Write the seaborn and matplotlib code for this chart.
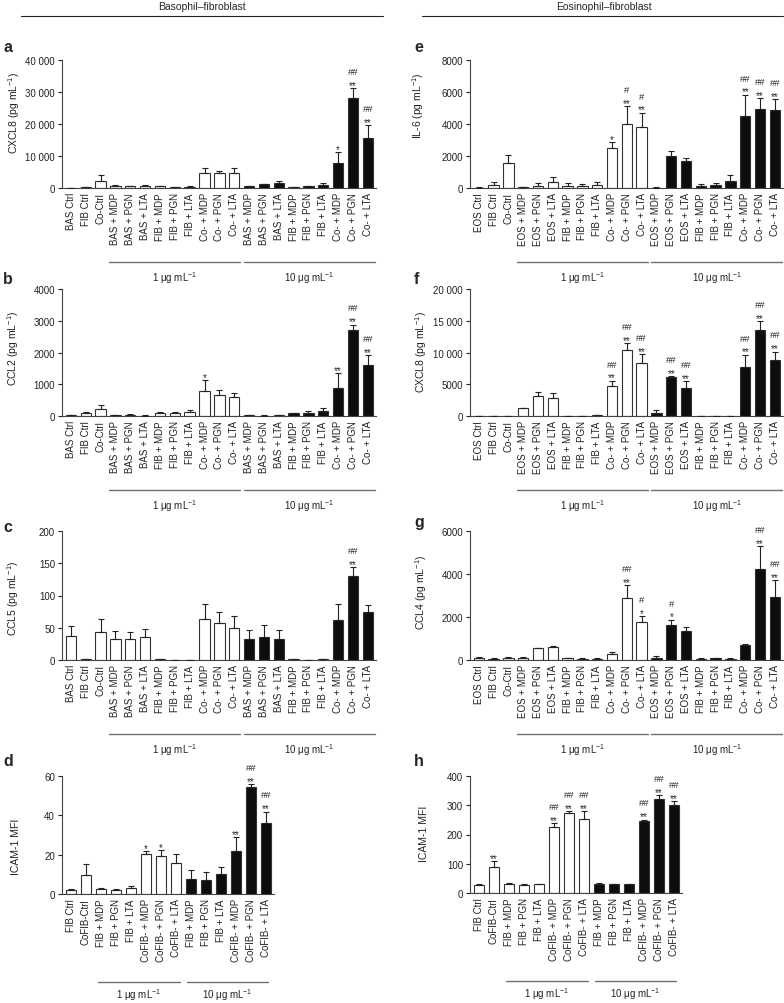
"""
Cytokine / ICAM-1 bar panels for basophil- and eosinophil-fibroblast co-cultures.
"""
import numpy as np
import pandas as pd
import matplotlib
matplotlib.use("Agg")
import matplotlib.pyplot as plt
import matplotlib.transforms as mtransforms
from matplotlib.lines import Line2D
import seaborn as sns

W, H = 784, 1004

# ---- categories ----
bas_labels = ["BAS Ctrl", "FIB Ctrl", "Co-Ctrl",
              "BAS + MDP", "BAS + PGN", "BAS + LTA", "FIB + MDP", "FIB + PGN", "FIB + LTA",
              "Co- + MDP", "Co- + PGN", "Co- + LTA",
              "BAS + MDP", "BAS + PGN", "BAS + LTA", "FIB + MDP", "FIB + PGN", "FIB + LTA",
              "Co- + MDP", "Co- + PGN", "Co- + LTA"]
eos_labels = ["EOS Ctrl", "FIB Ctrl", "Co-Ctrl",
              "EOS + MDP", "EOS + PGN", "EOS + LTA", "FIB + MDP", "FIB + PGN", "FIB + LTA",
              "Co- + MDP", "Co- + PGN", "Co- + LTA",
              "EOS + MDP", "EOS + PGN", "EOS + LTA", "FIB + MDP", "FIB + PGN", "FIB + LTA",
              "Co- + MDP", "Co- + PGN", "Co- + LTA"]
icam_labels = ["FIB Ctrl", "CoFIB-Ctrl",
               "FIB + MDP", "FIB + PGN", "FIB + LTA", "CoFIB- + MDP", "CoFIB- + PGN", "CoFIB- + LTA",
               "FIB + MDP", "FIB + PGN", "FIB + LTA", "CoFIB- + MDP", "CoFIB- + PGN", "CoFIB- + LTA"]
dose_long = ["ctrl"] * 3 + ["1"] * 9 + ["10"] * 9
dose_short = ["ctrl"] * 2 + ["1"] * 6 + ["10"] * 6
dose_names = ["1 μg mL$^{-1}$", "10 μg mL$^{-1}$"]

# ---- values (mean, upper error, significance) ----
cxcl8_bas = [100, 200, 2300, 600, 500, 700, 500, 200, 400, 4600, 4600, 4600,
             600, 1100, 1700, 300, 500, 1000, 7700, 28000, 15500]
cxcl8_bas_err = [50, 50, 1900, 200, 150, 150, 150, 50, 300, 1500, 800, 1500,
                 100, 200, 600, 100, 200, 500, 3400, 3200, 4200]
cxcl8_bas_star = ["", "", "", "", "", "", "", "", "", "", "", "",
                  "", "", "", "", "", "", "*", "**", "**"]
cxcl8_bas_hash = ["", "", "", "", "", "", "", "", "", "", "", "",
                  "", "", "", "", "", "", "", "##", "##"]

ccl2_bas = [20, 100, 220, 30, 40, 15, 90, 90, 130, 800, 650, 590,
            20, 15, 30, 80, 110, 170, 890, 2700, 1600]
ccl2_bas_err = [10, 40, 135, 10, 10, 5, 40, 40, 60, 320, 180, 130,
                5, 5, 10, 20, 40, 80, 450, 180, 320]
ccl2_bas_star = ["", "", "", "", "", "", "", "", "", "*", "", "",
                 "", "", "", "", "", "", "**", "**", "**"]
ccl2_bas_hash = ["", "", "", "", "", "", "", "", "", "", "", "",
                 "", "", "", "", "", "", "", "##", "##"]

ccl5_bas = [37, 1, 43, 33, 33, 35, 1, 0.5, 0.5, 64, 57, 49,
            32, 36, 32, 2, 0.5, 2, 62, 131, 74]
ccl5_bas_err = [16, 0, 20, 12, 11, 13, 0, 0, 0, 23, 18, 19,
                14, 18, 14, 0, 0, 0, 25, 13, 11]
ccl5_bas_star = ["", "", "", "", "", "", "", "", "", "", "", "",
                 "", "", "", "", "", "", "", "**", ""]
ccl5_bas_hash = ["", "", "", "", "", "", "", "", "", "", "", "",
                 "", "", "", "", "", "", "", "##", ""]

icam_bas = [1.9, 9.8, 2.5, 2.0, 3.3, 20.1, 19.4, 15.7, 7.4, 7.1, 10.1, 21.8, 54.4, 36.3]
icam_bas_err = [0.6, 5.4, 0.7, 0.3, 0.7, 1.7, 3.0, 4.7, 4.8, 4.2, 3.4, 7.1, 1.5, 5.6]
icam_bas_star = ["", "", "", "", "", "*", "*", "", "", "", "", "**", "**", "**"]
icam_bas_hash = ["", "", "", "", "", "", "", "", "", "", "", "", "##", "##"]

il6_eos = [30, 200, 1550, 40, 150, 375, 150, 130, 180, 2480, 4000, 3800,
           30, 1980, 1670, 150, 170, 440, 4520, 4940, 4850]
il6_eos_err = [10, 190, 500, 10, 140, 300, 150, 120, 180, 370, 1100, 900,
               10, 350, 200, 120, 150, 400, 1300, 680, 700]
il6_eos_star = ["", "", "", "", "", "", "", "", "", "*", "**", "**",
                "", "", "", "", "", "", "**", "**", "**"]
il6_eos_hash = ["", "", "", "", "", "", "", "", "", "", "#", "#",
                "", "", "", "", "", "", "##", "##", "##"]

cxcl8_eos = [0, 0, 0, 1200, 3150, 2800, 0, 0, 100, 4740, 10470, 8420,
             530, 6100, 4470, 0, 0, 0, 7680, 13580, 8840]
cxcl8_eos_err = [0, 0, 0, 100, 700, 900, 0, 0, 30, 800, 950, 1300,
                 370, 200, 1050, 0, 0, 0, 1950, 1370, 1300]
cxcl8_eos_star = ["", "", "", "", "", "", "", "", "", "**", "**", "**",
                  "", "**", "**", "", "", "", "**", "**", "**"]
cxcl8_eos_hash = ["", "", "", "", "", "", "", "", "", "##", "##", "##",
                  "", "##", "##", "", "", "", "##", "##", "##"]

ccl4_eos = [80, 60, 80, 80, 545, 620, 70, 60, 60, 280, 2870, 1745,
            90, 1635, 1355, 60, 70, 50, 720, 4250, 2910]
ccl4_eos_err = [40, 30, 50, 60, 30, 50, 30, 30, 30, 90, 620, 280,
                80, 235, 200, 30, 40, 30, 20, 1050, 800]
ccl4_eos_star = ["", "", "", "", "", "", "", "", "", "", "**", "*",
                 "", "*", "", "", "", "", "", "**", "**"]
ccl4_eos_hash = ["", "", "", "", "", "", "", "", "", "", "##", "#",
                 "", "#", "", "", "", "", "", "##", "##"]

icam_eos = [28, 88, 32, 29, 30, 224, 275, 252, 32, 31, 31, 246, 321, 300]
icam_eos_err = [2, 21, 2, 2, 1, 15, 4, 27, 2, 1, 1, 5, 14, 13]
icam_eos_star = ["", "**", "", "", "", "**", "**", "**", "", "", "", "**", "**", "**"]
icam_eos_hash = ["", "", "", "", "", "##", "##", "##", "", "", "", "##", "##", "##"]

# ---- style ----
sns.set_style("ticks")
plt.rcParams["font.family"] = ["Liberation Sans", "DejaVu Sans"]
plt.rcParams["mathtext.fontset"] = "custom"
plt.rcParams["mathtext.rm"] = "Liberation Sans"
plt.rcParams["mathtext.default"] = "regular"
INK = "#222222"
GREY = "#6e6e6e"
fill = {"ctrl": "white", "1": "white", "10": "#0d0d0d"}


def axes_rect(l, t, r, b):
    return [l / W, 1 - b / H, (r - l) / W, (b - t) / H]


def draw_panel(fig, box, labels, dose, vals, errs, stars, hashes,
               ymax, ystep, ytick_fmt, ylabel, ylabel_xy, letter, letter_xy, groups):
    l, t, r, b = box
    ax = fig.add_axes(axes_rect(l, t, r, b))
    n = len(labels)
    df = pd.DataFrame({"pos": np.arange(n), "val": vals, "dose": dose})
    sns.barplot(data=df, x="pos", y="val", hue="dose", palette=fill, dodge=False,
                width=0.7, edgecolor="#333333", linewidth=0.8, legend=False, ax=ax)
    err = np.asarray(errs, dtype=float)
    ax.errorbar(np.arange(n), vals, yerr=[np.zeros(n), err], fmt="none",
                ecolor=INK, elinewidth=0.8, capsize=2.0, capthick=0.8, zorder=3)
    for i in range(n):
        top = vals[i] + err[i]
        if stars[i]:
            ax.annotate(stars[i], (i, top), xytext=(0, -1.2), textcoords="offset points",
                        ha="center", va="bottom", fontsize=7, annotation_clip=False)
        if hashes[i]:
            ax.annotate(hashes[i], (i, top), xytext=(0, 8.8), textcoords="offset points",
                        ha="center", va="bottom", fontsize=6.8, annotation_clip=False)

    ax.set_xlim(-0.6, n - 0.45)
    ax.set_ylim(0, ymax)
    ticks = np.arange(0, ymax + ystep / 2, ystep)
    ax.set_yticks(ticks)
    ax.set_yticklabels([ytick_fmt(v) for v in ticks])
    ax.set_xticks(np.arange(n))
    ax.set_xticklabels(labels, rotation=90)
    ax.set_xlabel("")
    ax.tick_params(axis="x", length=0, pad=3, labelsize=7, colors=INK)
    ax.tick_params(axis="y", length=3, width=0.8, pad=2, labelsize=7, colors=INK)
    sns.despine(ax=ax)
    for side in ("left", "bottom"):
        ax.spines[side].set_linewidth(0.8)
        ax.spines[side].set_color("#444444")

    # y label centred at a given pixel position
    ax.set_ylabel(ylabel, fontsize=7.5, color=INK)
    lx, ly = ylabel_xy
    ax.yaxis.set_label_coords((lx + 5 - l) / (r - l), (b - ly) / (b - t))

    # dose grouping lines under the tick labels
    line_off, text_off, spans = groups
    trans = mtransforms.blended_transform_factory(ax.transData, ax.transAxes)
    hpx = b - t
    for (x0, x1), name in zip(spans, dose_names):
        ax.plot([x0, x1], [-line_off / hpx] * 2, color=GREY, lw=1.0,
                transform=trans, clip_on=False)
        ax.text((x0 + x1) / 2, -text_off / hpx, name, transform=trans,
                ha="center", va="center", fontsize=7, color=INK)

    fig.text(letter_xy[0] / W, 1 - letter_xy[1] / H, letter, fontsize=11.5,
             fontweight="bold", ha="left", va="center")
    return ax


def spaced(v):
    v = int(v)
    return f"{v:,}".replace(",", " ") if v >= 10000 else str(v)


long_groups = (74, 89, [(2.55, 11.4), (11.65, 20.5)])
short_groups = (88, 100, [(1.8, 7.25), (7.75, 13.15)])

fig = plt.figure(figsize=(W / 100, H / 100), dpi=100)

# column headers
fig.text(202 / W, 1 - 7 / H, "Basophil–fibroblast", ha="center", va="center", fontsize=7.5)
fig.add_artist(Line2D([21 / W, 383 / W], [1 - 17 / H] * 2, color=INK, lw=0.8))
fig.text(604 / W, 1 - 7 / H, "Eosinophil–fibroblast", ha="center", va="center", fontsize=7.5)
fig.add_artist(Line2D([422 / W, 783 / W], [1 - 17 / H] * 2, color=INK, lw=0.8))

draw_panel(fig, (62, 61, 376, 189), bas_labels, dose_long, cxcl8_bas, cxcl8_bas_err,
           cxcl8_bas_star, cxcl8_bas_hash, 40000, 10000, spaced,
           "CXCL8 (pg mL$^{-1}$)", (17, 113), "a", (3, 47), long_groups)
draw_panel(fig, (62, 290, 376, 417), bas_labels, dose_long, ccl2_bas, ccl2_bas_err,
           ccl2_bas_star, ccl2_bas_hash, 4000, 1000, spaced,
           "CCL2 (pg mL$^{-1}$)", (16, 348), "b", (3, 280), long_groups)
draw_panel(fig, (62, 532, 376, 661), bas_labels, dose_long, ccl5_bas, ccl5_bas_err,
           ccl5_bas_star, ccl5_bas_hash, 200, 50, spaced,
           "CCL5 (pg mL$^{-1}$)", (16, 598), "c", (3, 528), long_groups)
draw_panel(fig, (62, 777, 274, 895), icam_labels, dose_short, icam_bas, icam_bas_err,
           icam_bas_star, icam_bas_hash, 60, 20, spaced,
           "ICAM-1 MFI", (16, 847), "d", (3, 762), short_groups)

draw_panel(fig, (470, 61, 783, 189), eos_labels, dose_long, il6_eos, il6_eos_err,
           il6_eos_star, il6_eos_hash, 8000, 2000, spaced,
           "IL-6 (pg mL$^{-1}$)", (421, 106), "e", (414, 47), long_groups)
draw_panel(fig, (470, 290, 783, 417), eos_labels, dose_long, cxcl8_eos, cxcl8_eos_err,
           cxcl8_eos_star, cxcl8_eos_hash, 20000, 5000, spaced,
           "CXCL8 (pg mL$^{-1}$)", (424, 352), "f", (414, 280), long_groups)
draw_panel(fig, (470, 532, 783, 661), eos_labels, dose_long, ccl4_eos, ccl4_eos_err,
           ccl4_eos_star, ccl4_eos_hash, 6000, 2000, spaced,
           "CCL4 (pg mL$^{-1}$)", (424, 592), "g", (414, 523), long_groups)
draw_panel(fig, (470, 777, 682, 894), icam_labels, dose_short, icam_eos, icam_eos_err,
           icam_eos_star, icam_eos_hash, 400, 100, spaced,
           "ICAM-1 MFI", (424, 834), "h", (414, 762), short_groups)

fig.savefig("out.png", dpi=100)
